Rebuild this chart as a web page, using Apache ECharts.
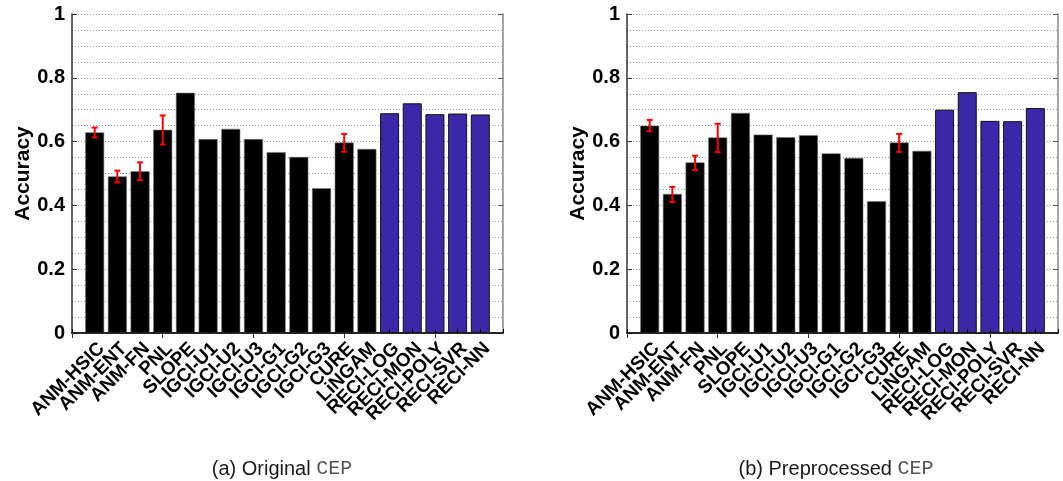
<!DOCTYPE html>
<html>
<head>
<meta charset="utf-8">
<script src="https://cdn.jsdelivr.net/npm/echarts@6/dist/echarts.min.js"></script>
<style>
  html, body { margin: 0; padding: 0; background: #fff; }
  #chart { width: 1063px; height: 481px; }
</style>
</head>
<body>
<div id="chart"></div>
<script>
// method names (x axis categories)
const methods = ['ANM-HSIC', 'ANM-ENT', 'ANM-FN', 'PNL', 'SLOPE', 'IGCI-U1', 'IGCI-U2', 'IGCI-U3',
  'IGCI-G1', 'IGCI-G2', 'IGCI-G3', 'CURE', 'LiNGAM', 'RECI-LOG', 'RECI-MON', 'RECI-POLY', 'RECI-SVR', 'RECI-NN'];

// (a) original CEP
const accOriginal = [0.629, 0.491, 0.507, 0.637, 0.753, 0.608, 0.640, 0.608, 0.567, 0.552, 0.454, 0.597, 0.577,
  0.689, 0.720, 0.686, 0.688, 0.685];
const errLowOriginal  = [0.613, 0.472, 0.479, 0.591, null, null, null, null, null, null, null, 0.568, null, null, null, null, null, null];
const errHighOriginal = [0.644, 0.509, 0.535, 0.682, null, null, null, null, null, null, null, 0.624, null, null, null, null, null, null];

// (b) preprocessed CEP
const accPreproc = [0.650, 0.436, 0.535, 0.613, 0.690, 0.622, 0.614, 0.620, 0.563, 0.549, 0.413, 0.597, 0.571,
  0.700, 0.755, 0.665, 0.664, 0.705];
const errLowPreproc  = [0.632, 0.411, 0.511, 0.567, null, null, null, null, null, null, null, 0.568, null, null, null, null, null, null];
const errHighPreproc = [0.668, 0.458, 0.556, 0.656, null, null, null, null, null, null, null, 0.624, null, null, null, null, null, null];

const yTicks = [0, 0.2, 0.4, 0.6, 0.8, 1];

const FONT = '"Liberation Sans", Arial, sans-serif';
const BLUE = '#3b28a8';

// pad one empty slot on each side so bars sit one step in from the frame
const cats = [''].concat(methods, ['']);

function barData(vals) {
  const out = ['-'];
  vals.forEach(function (v, i) {
    const reci = methods[i].indexOf('RECI') === 0;
    out.push({
      value: v,
      itemStyle: reci
        ? { color: BLUE, borderColor: '#111', borderWidth: 1 }
        : { color: '#000', borderColor: '#777', borderWidth: 0.6 }
    });
  });
  out.push('-');
  return out;
}

function errData(lo, hi) {
  const out = [];
  lo.forEach(function (l, i) {
    if (l != null) out.push([i + 1, l, hi[i]]);
  });
  return out;
}

function renderErr(params, api) {
  const x = api.value(0);
  const p1 = api.coord([x, api.value(1)]);
  const p2 = api.coord([x, api.value(2)]);
  const w = 3;
  const st = { stroke: '#ff0000', lineWidth: 2 };
  return {
    type: 'group',
    children: [
      { type: 'line', shape: { x1: p1[0], y1: p1[1], x2: p2[0], y2: p2[1] }, style: st },
      { type: 'line', shape: { x1: p1[0] - w, y1: p1[1], x2: p1[0] + w, y2: p1[1] }, style: st },
      { type: 'line', shape: { x1: p2[0] - w, y1: p2[1], x2: p2[0] + w, y2: p2[1] }, style: st }
    ]
  };
}

function xAxes(gi) {
  return [{
    type: 'category', gridIndex: gi, data: cats, boundaryGap: false, position: 'bottom', z: 5,
    axisLine: { lineStyle: { color: '#000', width: 1.5 } },
    axisTick: { inside: true, length: 4, lineStyle: { color: '#000' } },
    axisLabel: {
      interval: 0, rotate: 45, margin: 6, verticalAlign: 'top', color: '#000', fontFamily: FONT,
      fontWeight: 'bold', fontSize: 19
    }
  }, {
    type: 'category', gridIndex: gi, data: cats, boundaryGap: false, position: 'top', z: 5,
    axisLine: { lineStyle: { color: '#222', width: 1.5 } },
    axisTick: { inside: true, length: 5, lineStyle: { color: '#333' } },
    axisLabel: { show: false }
  }];
}

function yAxes(gi) {
  return [{
    type: 'value', gridIndex: gi, min: yTicks[0], max: yTicks[yTicks.length - 1], interval: 0.2,
    name: 'Accuracy', nameLocation: 'middle', nameGap: 38, nameRotate: 90,
    nameTextStyle: { fontFamily: FONT, fontWeight: 'bold', fontSize: 21, color: '#000' },
    axisLine: { show: true, lineStyle: { color: '#333', width: 1.5 } },
    axisTick: { show: true, inside: true, length: 5, lineStyle: { color: '#333' } },
    axisLabel: {
      margin: 7, color: '#000', fontFamily: FONT, fontWeight: 'bold', fontSize: 20,
      formatter: function (v) { return String(Math.round(v * 10) / 10); }
    },
    splitLine: { show: true, lineStyle: { color: '#999', type: [1, 2], width: 1 } },
    minorTick: { show: false, splitNumber: 4 },
    minorSplitLine: { show: true, lineStyle: { color: '#999', type: [1, 2], width: 1 } }
  }, {
    type: 'value', gridIndex: gi, min: yTicks[0], max: yTicks[yTicks.length - 1], interval: 0.2,
    position: 'right',
    axisLine: { show: true, lineStyle: { color: '#888', width: 1.5 } },
    axisTick: { show: true, inside: true, length: 5, lineStyle: { color: '#555' } },
    axisLabel: { show: false },
    splitLine: { show: false }
  }];
}

function caption(label, name, cx) {
  return {
    text: '{a|' + label + ' }{b|' + name + '}', left: cx, top: 454, textAlign: 'center',
    textStyle: { rich: {
      a: { fontFamily: FONT, fontSize: 20, fontWeight: 'normal', color: '#1a1a1a' },
      b: { fontFamily: '"Liberation Mono", monospace', fontSize: 20, fontWeight: 'normal', color: '#555' }
    } }
  };
}

const chart = echarts.init(document.getElementById('chart'));

chart.setOption({
  animation: false,
  backgroundColor: '#fff',
  title: [caption('(a) Original', 'CEP', 277), caption('(b) Preprocessed', 'CEP', 831)],
  grid: [
    { left: 72, top: 14, width: 431, height: 319 },
    { left: 627, top: 14, width: 431, height: 319 }
  ],
  xAxis: xAxes(0).concat(xAxes(1)),
  yAxis: yAxes(0).concat(yAxes(1)),
  series: [
    { type: 'bar', xAxisIndex: 0, yAxisIndex: 0, barWidth: 19, data: barData(accOriginal) },
    { type: 'custom', xAxisIndex: 0, yAxisIndex: 0, z: 6, renderItem: renderErr,
      encode: { x: 0, y: [1, 2] }, data: errData(errLowOriginal, errHighOriginal) },
    { type: 'bar', xAxisIndex: 2, yAxisIndex: 2, barWidth: 19, data: barData(accPreproc) },
    { type: 'custom', xAxisIndex: 2, yAxisIndex: 2, z: 6, renderItem: renderErr,
      encode: { x: 0, y: [1, 2] }, data: errData(errLowPreproc, errHighPreproc) }
  ]
});
</script>
</body>
</html>
